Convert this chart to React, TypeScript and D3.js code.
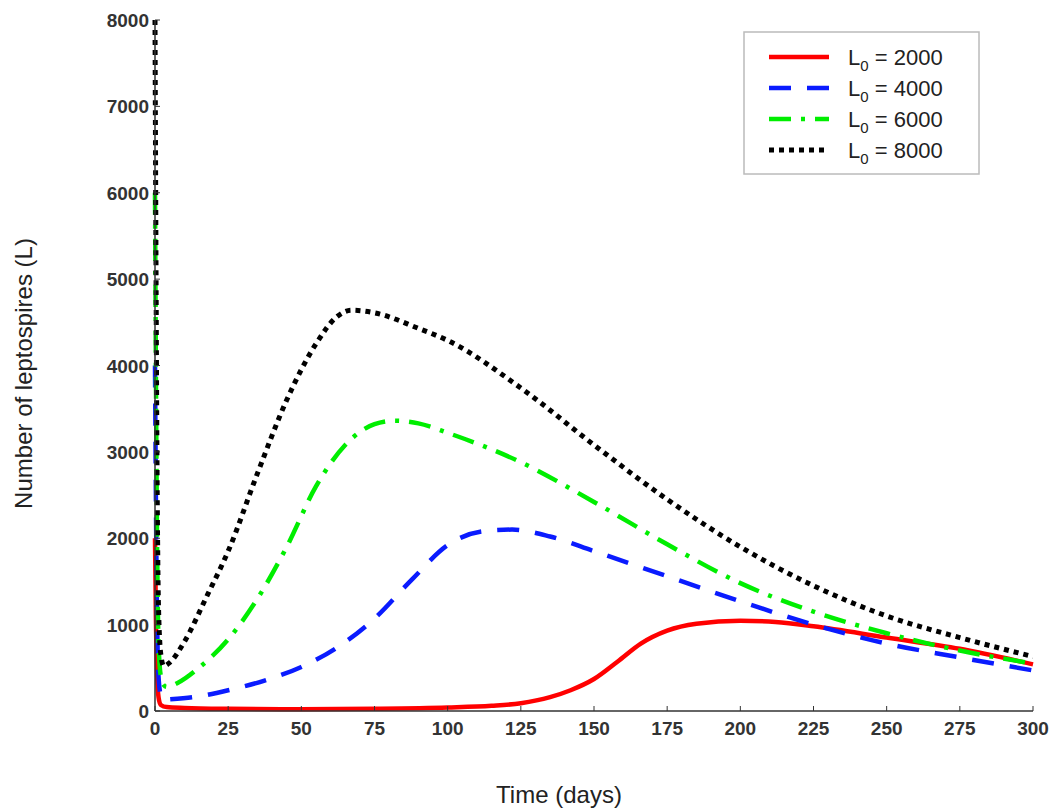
import * as d3 from 'd3';

const T_RED = [0, 0.3, 0.7, 1.2, 2, 4, 10, 25, 50, 75, 100, 115, 125, 135, 142, 150, 158, 166, 175, 185, 200, 212, 225, 250, 275, 300];
const L_RED = [2000, 1100, 450, 160, 70, 45, 35, 25, 20, 25, 40, 60, 90, 160, 240, 370, 570, 780, 930, 1010, 1045, 1030, 980, 850, 720, 540];

const T_BLUE = [0, 0.3, 0.7, 1.2, 2, 3, 5, 15, 25, 40, 50, 62, 75, 88, 100, 112, 122, 135, 150, 175, 200, 225, 250, 275, 300];
const L_BLUE = [4000, 2500, 1100, 400, 180, 130, 135, 170, 240, 380, 510, 730, 1070, 1530, 1920, 2080, 2100, 2020, 1850, 1560, 1270, 1000, 780, 620, 470];

const T_GREEN = [0, 0.3, 0.7, 1.2, 2, 3, 4, 8, 15, 25, 35, 45, 55, 65, 75, 82, 90, 100, 125, 150, 175, 200, 225, 250, 275, 300];
const L_GREEN = [6000, 4000, 2000, 800, 400, 300, 280, 330, 500, 830, 1300, 1900, 2600, 3080, 3320, 3360, 3330, 3220, 2880, 2420, 1930, 1480, 1150, 900, 700, 550];

const T_BLACK = [0, 0.3, 0.7, 1.2, 2, 3, 5, 10, 18, 25, 35, 45, 55, 62, 67, 75, 90, 100, 125, 150, 175, 200, 225, 250, 275, 300];
const L_BLACK = [8000, 5500, 2800, 1200, 650, 520, 560, 800, 1350, 1850, 2750, 3600, 4250, 4560, 4640, 4610, 4430, 4290, 3740, 3080, 2450, 1900, 1450, 1100, 850, 630];

const X_TICKS = d3.range(0, 301, 25);
const Y_TICKS = d3.range(0, 8001, 1000);

const SERIES = [
  { name: '2000', t: T_RED, v: L_RED, color: '#ff0000', dash: '', width: 4.5 },
  { name: '4000', t: T_BLUE, v: L_BLUE, color: '#0a1bff', dash: '22 16', width: 4.5 },
  { name: '6000', t: T_GREEN, v: L_GREEN, color: '#00ee00', dash: '22 10 4 10', width: 4.5 },
  { name: '8000', t: T_BLACK, v: L_BLACK, color: '#000000', dash: '5 5', width: 5 },
];

const M = { left: 155, right: 22, top: 20, bottom: 101 };
const W = 1055;
const H = 812;

export default function App() {
  const x = d3.scaleLinear().domain([0, 300]).range([M.left, W - M.right]);
  const y = d3.scaleLinear().domain([0, 8000]).range([H - M.bottom, M.top]);
  const line = d3
    .line<[number, number]>()
    .x((d) => x(d[0]))
    .y((d) => y(d[1]))
    .curve(d3.curveMonotoneX);
  const font = 'Arial, "Liberation Sans", sans-serif';
  const y0 = H - M.bottom;

  return (
    <svg width={W} height={H} style={{ position: 'absolute', left: 0, top: 0 }} fontFamily={font}>
      <rect width={W} height={H} fill="#fff" />
      {SERIES.map((s) => (
        <path
          key={s.name}
          d={line(s.t.map((t, i) => [t, s.v[i]] as [number, number])) ?? ''}
          fill="none"
          stroke={s.color}
          strokeWidth={s.width}
          strokeDasharray={s.dash}
        />
      ))}
      {/* axes */}
      <line x1={M.left} x2={W - M.right} y1={y0} y2={y0} stroke="#333" strokeWidth={1.5} />
      <line x1={M.left} x2={M.left} y1={y0} y2={M.top} stroke="#333" strokeWidth={1.5} />
      {X_TICKS.map((t) => (
        <g key={t}>
          <line x1={x(t)} x2={x(t)} y1={y0} y2={y0 - 5} stroke="#333" />
          <text x={x(t)} y={y0 + 24} textAnchor="middle" fontSize={19} fontWeight="bold" fill="#333">
            {t}
          </text>
        </g>
      ))}
      {Y_TICKS.map((t) => (
        <g key={t}>
          <line x1={M.left} x2={M.left + 5} y1={y(t)} y2={y(t)} stroke="#333" />
          <text x={M.left - 6} y={y(t) + 7} textAnchor="end" fontSize={19} fontWeight="bold" fill="#333">
            {t}
          </text>
        </g>
      ))}
      <text x={(M.left + W - M.right) / 2 - 35} y={803} textAnchor="middle" fontSize={24} fill="#222">
        Time (days)
      </text>
      <text
        transform={`translate(32,${(M.top + y0) / 2 + 8}) rotate(-90)`}
        textAnchor="middle"
        fontSize={24}
        fill="#222"
      >
        Number of leptospires (L)
      </text>
      {/* legend */}
      <rect x={744} y={32} width={235} height={142} fill="#fff" stroke="#bbb" strokeWidth={1.5} />
      {SERIES.map((s, i) => {
        const ly = 57 + i * 31;
        return (
          <g key={s.name}>
            <line
              x1={769}
              x2={829}
              y1={ly}
              y2={ly}
              stroke={s.color}
              strokeWidth={s.width}
              strokeDasharray={s.dash}
            />
            <text x={848} y={ly + 8} fontSize={22} fill="#222">
              L<tspan fontSize={15} dy={6}>0</tspan>
              <tspan dy={-6}> = {s.name}</tspan>
            </text>
          </g>
        );
      })}
    </svg>
  );
}
